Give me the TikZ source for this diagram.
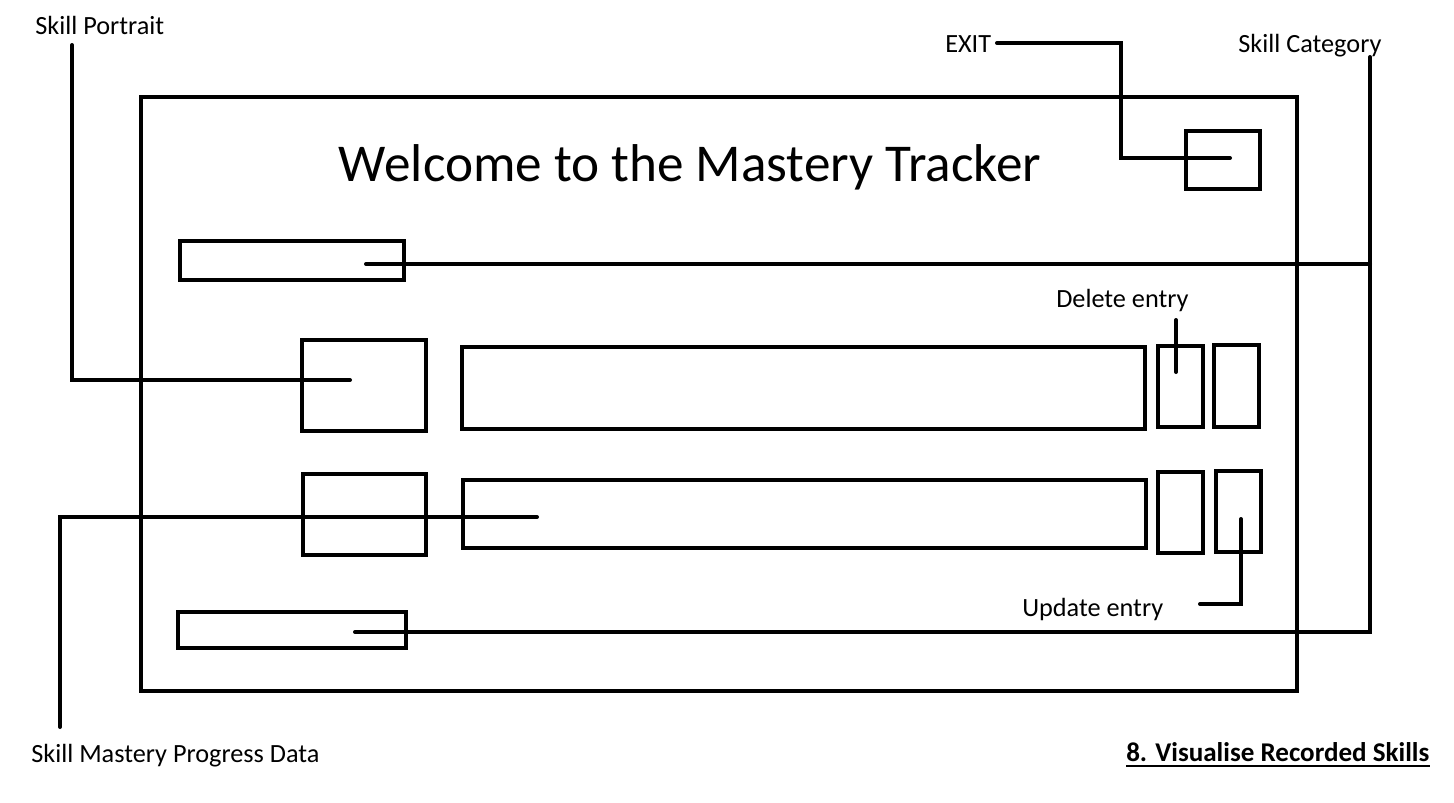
\documentclass[tikz,border=0pt]{standalone}
\usepackage{fontspec}
\setmainfont{Carlito}
\usetikzlibrary{fit}
\begin{document}
\begin{tikzpicture}[x=0.75pt,y=-0.75pt,
  box/.style={draw, line width=3pt, inner sep=0pt, outer sep=0pt},
  wire/.style={line width=3pt, line cap=round, line join=miter},
  lbl/.style={font=\fontsize{19.7}{22}\selectfont, inner sep=0pt, anchor=base west},
  ttl/.style={font=\fontsize{39.9}{46}\selectfont, inner sep=0pt, anchor=base}]
\useasboundingbox (0,0) rectangle (1454,803);
% boxes
\node[box, fit={(141,97) (1297,691)}] (frame) {};
\node[box, fit={(1186,131) (1260,189)}] (exitbox) {};
\node[box, fit={(180,241) (404,280)}] (cat1) {};
\node[box, fit={(178,612) (406,648)}] (cat2) {};
\node[box, fit={(302,340) (426,431)}] (por1) {};
\node[box, fit={(303,474) (426,555)}] (por2) {};
\node[box, fit={(462,347) (1145,429)}] (bar1) {};
\node[box, fit={(463,480) (1146,548)}] (bar2) {};
\node[box, fit={(1158,346) (1203,427)}] (del1) {};
\node[box, fit={(1214,345) (1259,427)}] (upd1) {};
\node[box, fit={(1158,472) (1203,553)}] (del2) {};
\node[box, fit={(1216,471) (1261,552)}] (upd2) {};
% title
\node[ttl] (title) at (690,181) {Welcome to the Mastery Tracker};
% labels
\node[lbl] (lsp) at (35,34) {Skill Portrait};
\node[lbl] (lexit) at (945,52) {EXIT};
\node[lbl] (lcat) at (1238,52) {Skill Category};
\node[lbl] (ldel) at (1056,307) {Delete entry};
\node[lbl] (lupd) at (1022,616) {Update entry};
\node[lbl] (lsmp) at (31,762) {Skill Mastery Progress Data};
\node[lbl, font=\fontsize{20.3}{22}\selectfont\bfseries] (lvis) at (1126,761) {8. Visualise Recorded Skills};
\draw[line width=1.5pt] ([yshift=-4pt]lvis.base west) -- ([yshift=-4pt]lvis.base east);
% connector ends
\coordinate (spA) at (72,45);
\coordinate (spB) at (350,380);
\coordinate (smA) at (60,727);
\coordinate (smB) at (537,517);
\coordinate (exA) at (997,43);
\coordinate (exB) at (1230,158);
\coordinate (caA) at (1370,57);
\coordinate (caB) at (366,264);
\coordinate (caC) at (355,632);
\coordinate (deA) at (1176,320);
\coordinate (deB) at (1176,372);
\coordinate (upA) at (1200,604);
\coordinate (upB) at (1241,519);
% connectors
\draw[wire] (spA) |- (spB);
\draw[wire] (smA) |- (smB);
\draw[wire] (exA) -- (1121,43) |- (exB);
\draw[wire] (caA) |- (caC);
\draw[wire] (caA |- caB) -- (caB);
\draw[wire] (deA) -- (deB);
\draw[wire] (upA) -| (upB);
\end{tikzpicture}
\end{document}
